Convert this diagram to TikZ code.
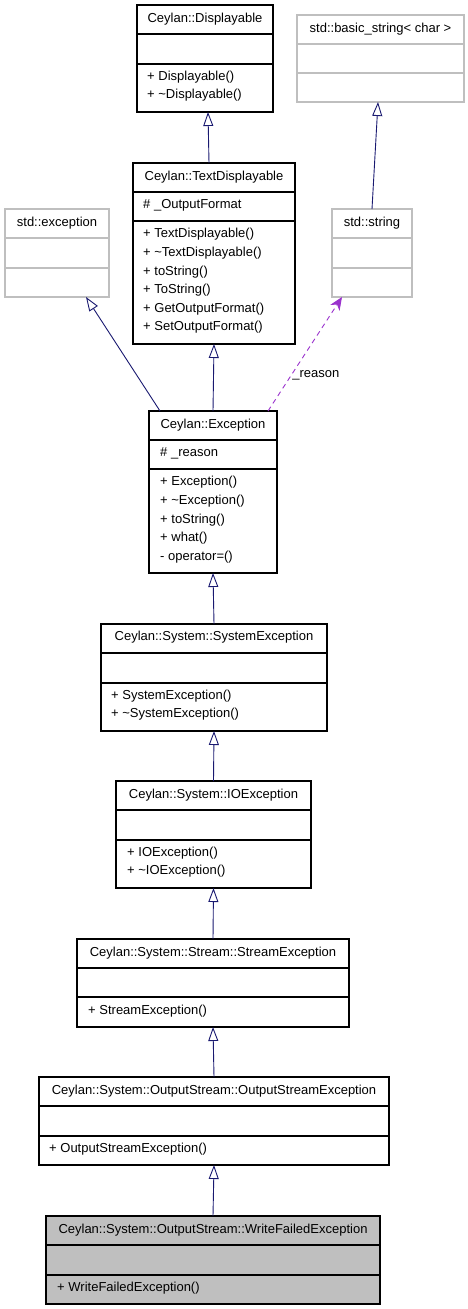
\documentclass[tikz,border=0pt]{standalone}
\usepackage{fontspec}
\setmainfont{Liberation Sans}
\usetikzlibrary{arrows.meta,calc}
\definecolor{edgeblue}{HTML}{191970}
\definecolor{edgepurple}{HTML}{9A32CD}
\definecolor{boxgray}{HTML}{BFBFBF}
\begin{document}
\begin{tikzpicture}[x=1pt,y=-1pt,font=\fontsize{13}{15}\selectfont]
\tikzstyle{classbox} = [rectangle, draw=black, line width=1.1pt, anchor=north west, inner sep=0pt, outer sep=0pt]
\tikzstyle{extbox} = [classbox, draw=boxgray]
\tikzstyle{title} = [inner sep=0pt]
\tikzstyle{member} = [anchor=west, inner sep=0pt]
\tikzstyle{inherit} = [draw=edgeblue, line width=0.9pt, -{Triangle[open,length=14pt,width=10pt]}]
\tikzstyle{usage} = [draw=edgepurple, line width=0.9pt, dash pattern=on 5pt off 4pt, -{Stealth[length=13pt,width=11pt,inset=4pt]}]
\useasboundingbox (0,0) rectangle (468,1309);
% Ceylan::Displayable
\node (disp)[classbox, minimum width=136, minimum height=107] at (137,5) {};
\draw[line width=1.1pt] (137,34) -- (273,34) (137,64) -- (273,64);
\node[title] at (205,19) {Ceylan::Displayable};
\foreach \m [count=\i] in {+ Displayable(), + \textasciitilde Displayable()}
  \node[member] at (147,58+18.7*\i) {\m};
% std::basic_string< char >
\node (bstr)[extbox, minimum width=167, minimum height=87] at (297,15) {};
\draw[boxgray, line width=1.1pt] (297,44) -- (464,44) (297,73) -- (464,73);
\node[title] at (380.5,29) {std::basic\_string< char >};
% Ceylan::TextDisplayable
\node (tdisp)[classbox, minimum width=162, minimum height=181] at (133,163) {};
\draw[line width=1.1pt] (133,192) -- (295,192) (133,221) -- (295,221);
\node[title] at (214,177) {Ceylan::TextDisplayable};
\node[member] at (143,205) {\# \_OutputFormat};
\foreach \m [count=\i] in {+ TextDisplayable(), + \textasciitilde TextDisplayable(), + toString(), + ToString(), + GetOutputFormat(), + SetOutputFormat()}
  \node[member] at (143,216+18.6*\i) {\m};
% std::exception
\node (exc)[extbox, minimum width=104, minimum height=88] at (5,209) {};
\draw[boxgray, line width=1.1pt] (5,238) -- (109,238) (5,268) -- (109,268);
\node[title] at (57,223) {std::exception};
% std::string
\node (str)[extbox, minimum width=80, minimum height=88] at (332,209) {};
\draw[boxgray, line width=1.1pt] (332,238) -- (412,238) (332,268) -- (412,268);
\node[title] at (372,223) {std::string};
% Ceylan::Exception
\node (cexc)[classbox, minimum width=128, minimum height=162] at (149,411) {};
\draw[line width=1.1pt] (149,440) -- (277,440) (149,469) -- (277,469);
\node[title] at (213,425) {Ceylan::Exception};
\node[member] at (160,453) {\# \_reason};
\foreach \m [count=\i] in {+ Exception(), + \textasciitilde Exception(), + toString(), + what(), - operator=()}
  \node[member] at (160,464+18.6*\i) {\m};
% Ceylan::System::SystemException
\node (sysexc)[classbox, minimum width=226, minimum height=107] at (101,624) {};
\draw[line width=1.1pt] (101,653) -- (327,653) (101,683) -- (327,683);
\node[title] at (214,637) {Ceylan::System::SystemException};
\foreach \m [count=\i] in {+ SystemException(), + \textasciitilde SystemException()}
  \node[member] at (111,677+18.7*\i) {\m};
% Ceylan::System::IOException
\node (ioexc)[classbox, minimum width=195, minimum height=107] at (116,781) {};
\draw[line width=1.1pt] (116,810) -- (311,810) (116,840) -- (311,840);
\node[title] at (213.5,795) {Ceylan::System::IOException};
\foreach \m [count=\i] in {+ IOException(), + \textasciitilde IOException()}
  \node[member] at (127,834+18.7*\i) {\m};
% Ceylan::System::Stream::StreamException
\node (strexc)[classbox, minimum width=272, minimum height=88] at (77,939) {};
\draw[line width=1.1pt] (77,968) -- (349,968) (77,997) -- (349,997);
\node[title] at (213,953) {Ceylan::System::Stream::StreamException};
\node[member] at (88,1011) {+ StreamException()};
% Ceylan::System::OutputStream::OutputStreamException
\node (osexc)[classbox, minimum width=350, minimum height=88] at (39,1077) {};
\draw[line width=1.1pt] (39,1106) -- (389,1106) (39,1136) -- (389,1136);
\node[title] at (214,1091) {Ceylan::System::OutputStream::OutputStreamException};
\node[member] at (49,1149) {+ OutputStreamException()};
% Ceylan::System::OutputStream::WriteFailedException
\node (wfexc)[classbox, fill=boxgray, minimum width=334, minimum height=88] at (46,1216) {};
\draw[line width=1.1pt] (46,1245) -- (380,1245) (46,1275) -- (380,1275);
\node[title] at (213,1230) {Ceylan::System::OutputStream::WriteFailedException};
\node[member] at (57,1288) {+ WriteFailedException()};
% connectors
\draw[inherit] ($(tdisp.north)+(-5,0)$) -- ($(disp.south)+(3,0)$);
\draw[inherit] (str.north) -- ($(bstr.south)+(-2.5,0)$);
\draw[inherit] ($(cexc.north west)+(11,0)$) -- ($(exc.south)+(29,0)$);
\draw[inherit] (cexc.north) -- (tdisp.south);
\draw[usage] ($(cexc.north east)+(-9,0)$) -- ($(str.south west)+(10,0)$) node[pos=0.31, anchor=west, inner sep=1pt] {\_reason};
\draw[inherit] (sysexc.north) -- (cexc.south);
\draw[inherit] (ioexc.north) -- (sysexc.south);
\draw[inherit] (strexc.north) -- (ioexc.south);
\draw[inherit] (osexc.north) -- (strexc.south);
\draw[inherit] (wfexc.north) -- (osexc.south);
\end{tikzpicture}
\end{document}
